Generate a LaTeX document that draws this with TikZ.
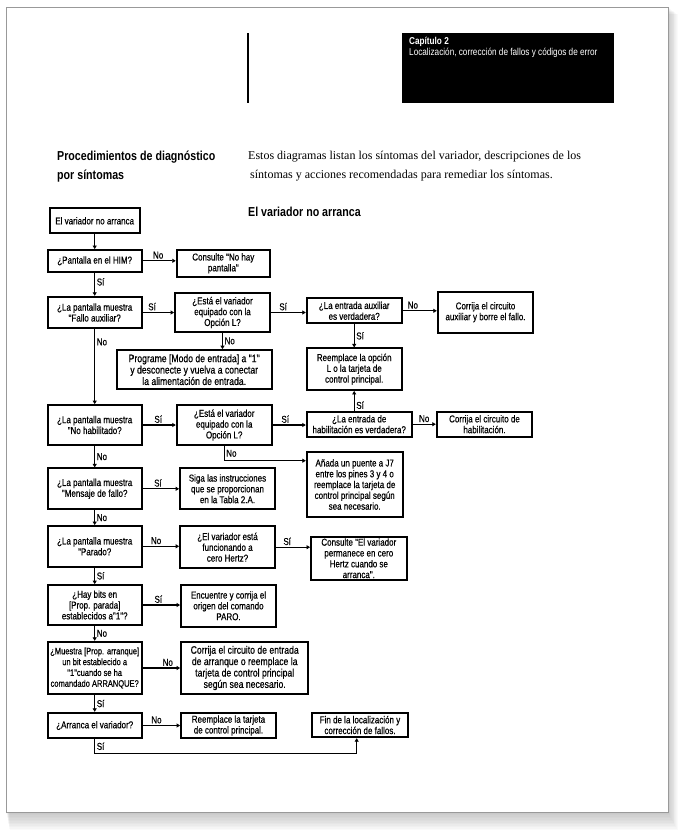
\documentclass[tikz,border=0pt]{standalone}
\usepackage{fontspec}
\setmainfont{Liberation Serif}
\newfontfamily\condfont[FakeStretch=0.82]{Liberation Sans}
\newfontfamily\cajafont[FakeStretch=0.8,FakeBold=0.5]{Liberation Sans}
\usetikzlibrary{arrows.meta}
\begin{document}
\begin{tikzpicture}[x=1pt,y=-1pt,
		caja/.style={draw, line width=1.8pt, align=center, inner sep=0pt, font=\cajafont\fontsize{10}{10.8}\selectfont},
		grande/.style={font=\cajafont\fontsize{10.8}{11.4}\selectfont},
		estrecha/.style={font=\cajafont\fontsize{9.4}{10.8}\selectfont},
		flecha/.style={line width=1.2pt, -{Triangle[length=3.5pt,width=4pt]}},
		etiq/.style={font=\cajafont\fontsize{10}{10}\selectfont, inner sep=1.5pt}]
	\useasboundingbox (0,0) rectangle (679,833);
	\foreach \d in {1,...,12}
		\fill[black, opacity=0.02] ({6+0.3*\d},{7+0.6*\d}) rectangle ({668+0.8*\d},{812+1.5*\d});
	\fill[white, draw=gray!80, line width=0.8pt] (6,7) rectangle (668,812);

	\draw[line width=1.5pt] (248,33) -- (248,103);
	\fill[black] (402,33) rectangle (614,103);
	\node[anchor=north west, text=white, align=left, inner sep=0pt, font=\condfont\fontsize{10}{11}\selectfont] (capitulo) at (409,37) {\textbf{Capítulo 2}\\Localización, corrección de fallos y códigos de error};

	\node[anchor=north west, align=left, inner sep=0pt, font=\condfont\bfseries\fontsize{13}{19}\selectfont] (proc) at (57,151) {Procedimientos de diagnóstico\\por síntomas};
	\node[anchor=north west, align=left, inner sep=0pt, font=\fontsize{12}{18.5}\selectfont] (intro) at (248,151) {Estos diagramas listan los síntomas del variador, descripciones de los\\\hspace*{2pt}síntomas y acciones recomendadas para remediar los síntomas.};
	\node[anchor=north west, inner sep=0pt, font=\condfont\bfseries\fontsize{13}{14}\selectfont] (titulo) at (248,207) {El variador no arranca};

	\node[caja, minimum width=90pt, minimum height=25pt] (inicio) at (94.7,220.8) {El variador no arranca};
	\node[caja, minimum width=94pt, minimum height=21.7pt] (himQ) at (94.7,260.8) {¿Pantalla en el HIM?};
	\node[caja, minimum width=93.3pt, minimum height=26.7pt] (noHay) at (223.3,263.3) {Consulte "No hay\\pantalla"};
	\node[caja, minimum width=94pt, minimum height=31.6pt] (auxQ) at (94.7,312.5) {¿La pantalla muestra\\"Fallo auxiliar?};
	\node[caja, minimum width=95pt, minimum height=38.4pt] (opcL1) at (222.5,312.5) {¿Está el variador\\equipado con la\\Opción L?};
	\node[caja, minimum width=95pt, minimum height=25pt] (auxVerd) at (354.2,310.8) {¿La entrada auxiliar\\es verdadera?};
	\node[caja, minimum width=95.6pt, minimum height=41pt] (corrAux) at (485.5,312.2) {Corrija el circuito\\auxiliar y borre el fallo.};
	\node[caja, grande, minimum width=155pt, minimum height=39.3pt] (programe) at (194.2,369.7) {Programe [Modo de entrada] a "1"\\y desconecte y vuelva a conectar\\la alimentación de entrada.};
	\node[caja, minimum width=95pt, minimum height=41.7pt] (reempL) at (354.2,369.2) {Reemplace la opción\\L o la tarjeta de\\control principal.};
	\node[caja, minimum width=105pt, minimum height=25pt] (habVerd) at (359.2,424.2) {¿La entrada de\\habilitación es verdadera?};
	\node[caja, minimum width=95.6pt, minimum height=25pt] (corrHab) at (484.5,424.2) {Corrija el circuito de\\habilitación.};
	\node[caja, minimum width=94pt, minimum height=40pt] (habQ) at (94.7,425) {¿La pantalla muestra\\"No habilitado?};
	\node[caja, minimum width=95pt, minimum height=40pt] (opcL2) at (224.2,425) {¿Está el variador\\equipado con la\\Opción L?};
	\node[caja, minimum width=96pt, minimum height=64.4pt] (puente) at (354.7,484.5) {Añada un puente a J7\\entre los pines 3 y 4 o\\reemplace la tarjeta de\\control principal según\\sea necesario.};
	\node[caja, minimum width=94pt, minimum height=41pt] (msjQ) at (94.7,488.8) {¿La pantalla muestra\\"Mensaje de fallo?};
	\node[caja, minimum width=95pt, minimum height=41pt] (tabla) at (227.5,488.8) {Siga las instrucciones\\que se proporcionan\\en la Tabla 2.A.};
	\node[caja, minimum width=94pt, minimum height=40.7pt] (paradoQ) at (94.7,546.3) {¿La pantalla muestra\\"Parado?};
	\node[caja, minimum width=95pt, minimum height=42.3pt] (ceroHz) at (227.5,547.2) {¿El variador está\\funcionando a\\cero Hertz?};
	\node[caja, minimum width=95.7pt, minimum height=43.3pt] (consCero) at (358.8,558.3) {Consulte "El variador\\permanece en cero\\Hertz cuando se\\arranca".};
	\node[caja, minimum width=94pt, minimum height=40pt] (bitsQ) at (94.7,605) {¿Hay bits en\\{[Prop. parada]}\\establecidos a"1"?};
	\node[caja, minimum width=95pt, minimum height=41.7pt] (paro) at (228.5,605.8) {Encuentre y corrija el\\origen del comando\\PARO.};
	\node[caja, estrecha, minimum width=94pt, minimum height=52.6pt] (arrQ) at (94.7,668) {¿Muestra [Prop. arranque]\\un bit establecido a\\"1"cuando se ha\\comandado ARRANQUE?};
	\node[caja, grande, minimum width=127.3pt, minimum height=52.6pt] (corrArr) at (244.7,668) {Corrija el circuito de entrada\\de arranque o reemplace la\\tarjeta de control principal\\según sea necesario.};
	\node[caja, minimum width=94pt, minimum height=25.6pt] (arrancaQ) at (94.7,725.5) {¿Arranca el variador?};
	\node[caja, minimum width=95pt, minimum height=25.6pt] (reempTarj) at (228.5,725.5) {Reemplace la tarjeta\\de control principal.};
	\node[caja, minimum width=96.6pt, minimum height=24.6pt] (fin) at (360,725) {Fin de la localización y\\corrección de fallos.};

	\coordinate (codoM) at (224.2,460.7);
	\coordinate (codoX) at (94.7,753.3);
	\coordinate (codoF) at (356.7,753.3);

	\draw[flecha] (inicio) -- (himQ);
	\draw[flecha] (himQ.east) -- node[etiq, above, pos=0.47] {No} (himQ.east -| noHay.west);
	\draw[flecha] (himQ) -- node[etiq, right, pos=0.4] {Sí} (auxQ);
	\draw[flecha] (auxQ.east) -- node[etiq, above, pos=0.3] {Sí} (auxQ.east -| opcL1.west);
	\draw[flecha] (opcL1.east) -- node[etiq, above, pos=0.35] {Sí} (opcL1.east -| auxVerd.west);
	\draw[flecha] (auxVerd.east) -- node[etiq, above, pos=0.3] {No} (auxVerd.east -| corrAux.west);
	\draw[flecha] (auxVerd) -- node[etiq, right] {Sí} (reempL);
	\draw[flecha] (opcL1.south) -- node[etiq, right] {No} (opcL1.south |- programe.north);
	\draw[flecha] (auxQ) -- node[etiq, right, pos=0.17] {No} (habQ);
	\draw[flecha] (habQ.east) -- node[etiq, above, pos=0.47] {Sí} (habQ.east -| opcL2.west);
	\draw[flecha] (opcL2.east) -- node[etiq, above, pos=0.38] {Sí} (opcL2.east -| habVerd.west);
	\draw[flecha] (reempL.south |- habVerd.north) -- node[etiq, right, pos=0.28] {Sí} (reempL.south);
	\draw[flecha] (habVerd.east) -- node[etiq, above, pos=0.5] {No} (habVerd.east -| corrHab.west);
	\draw[flecha] (opcL2.south) -- node[etiq, right] {No} (codoM) -- (codoM -| puente.west);
	\draw[flecha] (habQ) -- node[etiq, right] {No} (msjQ);
	\draw[flecha] (msjQ.east) -- node[etiq, above, pos=0.42] {Sí} (msjQ.east -| tabla.west);
	\draw[flecha] (msjQ) -- node[etiq, right] {No} (paradoQ);
	\draw[flecha] (paradoQ.east) -- node[etiq, above, pos=0.37] {No} (paradoQ.east -| ceroHz.west);
	\draw[flecha] (ceroHz.east) -- node[etiq, above, pos=0.33] {Sí} (ceroHz.east -| consCero.west);
	\draw[flecha] (paradoQ) -- node[etiq, right] {Sí} (bitsQ);
	\draw[flecha] (bitsQ.east) -- node[etiq, above, pos=0.42] {Sí} (bitsQ.east -| paro.west);
	\draw[flecha] (bitsQ) -- node[etiq, right] {No} (arrQ);
	\draw[flecha] (arrQ.east) -- node[etiq, above, pos=0.67] {No} (arrQ.east -| corrArr.west);
	\draw[flecha] (arrQ) -- node[etiq, right] {Sí} (arrancaQ);
	\draw[flecha] (arrancaQ.east) -- node[etiq, above, pos=0.37] {No} (arrancaQ.east -| reempTarj.west);
	\draw[flecha] (arrancaQ.south) -- node[etiq, right] {Sí} (codoX) -- (codoF) -- (codoF |- fin.south);
\end{tikzpicture}
\end{document}
